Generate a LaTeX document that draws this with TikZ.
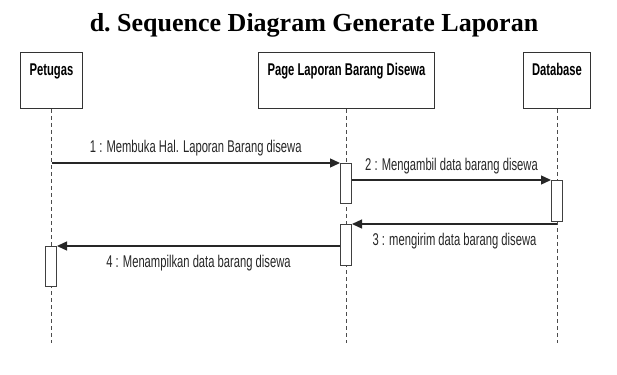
\documentclass[tikz,border=0pt]{standalone}
\usepackage{fontspec}
\setmainfont{Liberation Serif}
\newfontfamily\umlfont[FakeStretch=0.66]{Liberation Sans}
\usepackage{tikz}
\usetikzlibrary{arrows.meta}
\tikzset{
lifebox/.style={
  draw=black!80,
  line width=1pt,
  fill=white,
  anchor=north west,
  inner sep=0pt,
  align=center,
  text height=23pt,
  text depth=33pt,
  font=\umlfont\bfseries\fontsize{17}{20}\selectfont
},
lifeline/.style={draw=black!70,line width=0.9pt,dash pattern=on 4pt off 3pt},
actbar/.style={draw=black!75,line width=1pt,fill=white,anchor=north,
  minimum width=11pt,inner sep=0pt},
msg/.style={draw=black!85,line width=1.3pt,-{Triangle[length=10pt,width=9pt]}},
msgtop/.style={midway,anchor=base,yshift=10pt,inner sep=0pt,
  font=\umlfont\fontsize{17}{20}\selectfont,text=black!85},
msgbot/.style={midway,anchor=base,yshift=-21pt,inner sep=0pt,
  font=\umlfont\fontsize{17}{20}\selectfont,text=black!85},
}

\begin{document}
\begin{tikzpicture}[x=1pt,y=-1pt]
\useasboundingbox (0,0) rectangle (617,374);
\node[anchor=base,font=\bfseries\fontsize{26}{30}\selectfont] (title) at (314,32)
  {d.\ Sequence Diagram Generate Laporan};
% the lifeline heads
\node[lifebox,minimum width=62pt] (petugas) at (20,52) {Petugas};
\node[lifebox,minimum width=176pt] (page) at (258,52) {Page Laporan Barang Disewa};
\node[lifebox,minimum width=67pt] (db) at (523,52) {Database};
\coordinate (bottom) at (0,343);
% the lifelines
\foreach \x in {petugas,page,db}
{
  \draw[lifeline] (\x.south) -- (\x.south |- bottom);
}
% the activation bars
\node[actbar,minimum height=40pt] (actP1) at (346,163) {};
\node[actbar,minimum height=41pt] (actD) at (557,180) {};
\node[actbar,minimum height=41pt] (actP2) at (346,224) {};
\node[actbar,minimum height=40pt] (actU) at (51,246) {};
% the messages
\draw[msg] (petugas.south |- actP1.north) -- (actP1.north west)
  node[msgtop] (m1) {1 : Membuka Hal. Laporan Barang disewa};
\draw[msg] (actP1.east |- actD.north) -- (actD.north west)
  node[msgtop] (m2) {2 : Mengambil data barang disewa};
\draw[msg] (db.south |- actP2.north) -- (actP2.north east)
  node[msgbot] (m3) {3 : mengirim data barang disewa};
\draw[msg] (actP2.west |- actU.north) -- (actU.north east)
  node[msgbot] (m4) {4 : Menampilkan data barang disewa};
\end{tikzpicture}
\end{document}
